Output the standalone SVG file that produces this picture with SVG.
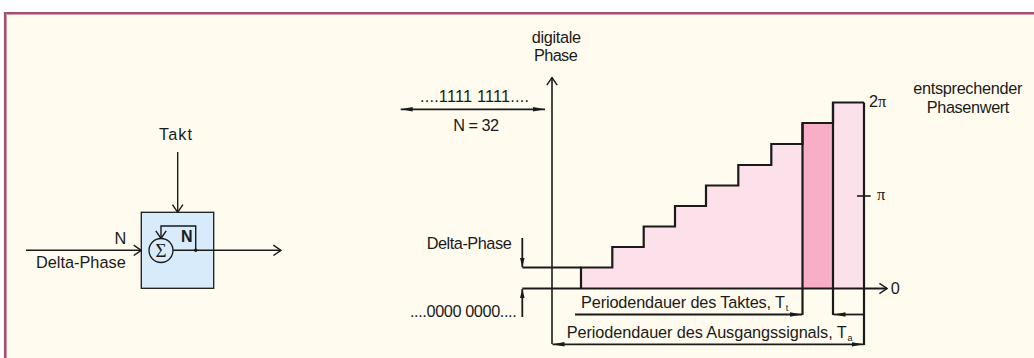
<svg xmlns="http://www.w3.org/2000/svg" width="1034" height="358" viewBox="0 0 1034 358">
  <style>
    text { font-family: "Liberation Sans", Arial, sans-serif; font-size: 16.3px; fill: #1a1a1a; }
    .sub { font-size: 9px; }
    .pi { font-family: "Liberation Serif", "DejaVu Serif", serif; }
    .ln { fill: none; stroke: #1a1a1a; stroke-width: 1.4; }
    .ax { fill: none; stroke: #1a1a1a; stroke-width: 1.6; }
    .thk { fill: none; stroke: #1a1a1a; stroke-width: 2.2; }
    .dim { fill: none; stroke: #1a1a1a; stroke-width: 1.8; }
    .mid { text-anchor: middle; }
  </style>
  <defs>
    <marker id="open" markerUnits="userSpaceOnUse" markerWidth="9" markerHeight="12" viewBox="0 0 9 12" refX="8.3" refY="6" orient="auto">
      <path d="M0.7,0.8 L8.3,6 L0.7,11.2" fill="none" stroke="#1a1a1a" stroke-width="1.4"/>
    </marker>
    <marker id="fill" markerUnits="userSpaceOnUse" markerWidth="12" markerHeight="5" viewBox="0 0 12 5" refX="12" refY="2.5" orient="auto-start-reverse">
      <path d="M0,0.3 L12,2.5 L0,4.7 Z" fill="#1a1a1a"/>
    </marker>
    <marker id="fillS" markerUnits="userSpaceOnUse" markerWidth="9" markerHeight="5" viewBox="0 0 9 5" refX="9" refY="2.5" orient="auto">
      <path d="M0,0.2 L9,2.5 L0,4.8 Z" fill="#1a1a1a"/>
    </marker>
  </defs>

  <!-- background and frame -->
  <rect x="0" y="0" width="1034" height="358" fill="#ffffff"/>
  <rect x="5" y="13" width="1029" height="345" fill="#fffcef"/>
  <path d="M6.5,358 V14.5 H1034" fill="none" stroke="#d59db2" stroke-width="1"/>
  <path d="M5,358 V13 H1034" fill="none" stroke="#a0506f" stroke-width="2.2"/>

  <!-- accumulator block -->
  <g id="accumulator">
    <rect x="141.3" y="212.3" width="72.4" height="76" fill="#d7ebfa" stroke="#1a1a1a" stroke-width="1.3"/>
    <circle cx="161" cy="250.5" r="12" fill="none" stroke="#1a1a1a" stroke-width="1.3"/>
    <text x="161" y="257" class="mid" style="font-family:'Liberation Serif','DejaVu Serif',serif;font-size:19px;">Σ</text>
    <text x="181" y="241.7" style="font-weight:bold;font-size:16px;">N</text>
    <circle cx="195.7" cy="250.3" r="1.8" fill="#1a1a1a"/>
  </g>

  <g id="labels-left">
    <text x="159" y="140" textLength="33" lengthAdjust="spacing">Takt</text>
    <text x="114.5" y="244.3">N</text>
    <text x="36" y="268" textLength="89.7" lengthAdjust="spacing">Delta-Phase</text>
  </g>

  <!-- phase staircase -->
  <g id="staircase">
    <path d="M581,288.5 V267.5 H612.3 V247 H643.7 V226.5 H675 V206 H706 V185.5 H738.3 V165 H771.3 V144 H802.5 V288.5 Z" fill="#fce1ea"/>
    <rect x="802.5" y="123" width="30.5" height="165.5" fill="#f7aec6"/>
    <rect x="833" y="102.5" width="31" height="186" fill="#fce1ea"/>
    <path class="thk" d="M581,288.5 V267.5 H612.3 V247 H643.7 V226.5 H675 V206 H706 V185.5 H738.3 V165 H771.3 V144 H802.5 V123 H833 V102.5 H864"/>
    <path class="thk" d="M802.5,123 V315 M833,102.5 V315 M864,102.5 V345"/>
    <path class="thk" d="M522.3,267.5 H581"/>
  </g>

  <g id="connectors">
    <!-- block connectors -->
    <path class="ln" d="M177.7,152 V212.3" marker-end="url(#open)"/>
    <path class="ln" d="M26,250.3 H141.3" marker-end="url(#open)"/>
    <path class="ln" d="M173,250.3 H281" marker-end="url(#open)"/>
    <path class="ln" d="M195.7,250.3 V226 H161 V238.5" marker-end="url(#open)"/>
    <!-- axes -->
    <path class="ax" d="M552,344 V77.5" marker-end="url(#open)"/>
    <path class="thk" d="M522.3,288.5 H887" marker-end="url(#open)"/>
    <!-- word width -->
    <path class="dim" d="M400.7,109.3 H545" marker-start="url(#fill)" marker-end="url(#fill)"/>
    <!-- delta-phase markers -->
    <path class="dim" d="M522.3,238 V267" marker-end="url(#fillS)"/>
    <path class="dim" d="M522.3,317 V289" marker-end="url(#fillS)"/>
    <!-- period dimensions -->
    <path class="dim" d="M575,314.5 H802" marker-end="url(#fill)"/>
    <path class="dim" d="M864,314.5 H833.5" marker-end="url(#fill)"/>
    <path class="dim" d="M552.5,344.3 H863.5" marker-start="url(#fill)" marker-end="url(#fill)"/>
    <!-- pi tick -->
    <path class="ax" d="M857,196 H870.7"/>
  </g>

  <g id="labels-right">
    <text x="531.7" y="42.7" textLength="49.3" lengthAdjust="spacing">digitale</text>
    <text x="534" y="61.3" textLength="43.7" lengthAdjust="spacing">Phase</text>
    <text x="420" y="102.3" textLength="109" lengthAdjust="spacing">....1111 1111....</text>
    <text x="453.3" y="130.7" textLength="45.7" lengthAdjust="spacing">N = 32</text>
    <text x="426.7" y="249.3" textLength="85" lengthAdjust="spacing">Delta-Phase</text>
    <text x="410" y="316.7" textLength="106.7" lengthAdjust="spacing">....0000 0000....</text>
    <text x="581" y="307.7" textLength="204" lengthAdjust="spacing">Periodendauer des Taktes, T</text>
    <text x="785.8" y="310.5" class="sub">t</text>
    <text x="566.7" y="338" textLength="280" lengthAdjust="spacing">Periodendauer des Ausgangssignals, T</text>
    <text x="847.5" y="340.5" class="sub">a</text>
    <text x="869" y="107">2<tspan class="pi">π</tspan></text>
    <text x="877" y="200" class="pi">π</text>
    <text x="890.7" y="294">0</text>
    <text x="913.3" y="94.3" textLength="109" lengthAdjust="spacing">entsprechender</text>
    <text x="926.7" y="112.7" textLength="82.7" lengthAdjust="spacing">Phasenwert</text>
  </g>
</svg>
